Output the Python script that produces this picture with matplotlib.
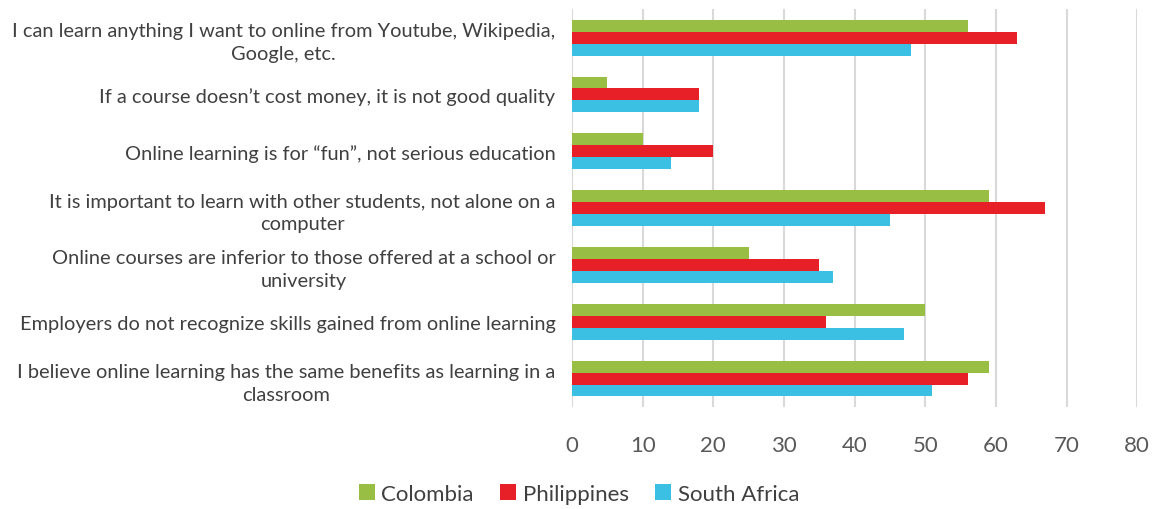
import numpy as np
import matplotlib.pyplot as plt

plt.rcParams['font.family'] = ['Lato', 'DejaVu Sans']

categories = [
    "I can learn anything I want to online from Youtube, Wikipedia,\nGoogle, etc.",
    "If a course doesn\u2019t cost money, it is not good quality",
    "Online learning is for \u201cfun\u201d, not serious education",
    "It is important to learn with other students, not alone on a\ncomputer",
    "Online courses are inferior to those offered at a school or\nuniversity",
    "Employers do not recognize skills gained from online learning",
    "I believe online learning has the same benefits as learning in a\nclassroom",
]
colombia = [56, 5, 10, 59, 25, 50, 59]
philippines = [63, 18, 20, 67, 35, 36, 56]
south_africa = [48, 18, 14, 45, 37, 47, 51]
series_names = ["Colombia", "Philippines", "South Africa"]
colors = ["#98bf43", "#e71f26", "#3bbfe3"]

fig = plt.figure(figsize=(11.58, 5.10), dpi=100)
ax = fig.add_axes([0.494, 0.2, 0.488, 0.78])

y = np.arange(len(categories))
h = 0.21
for i, (vals, name, c) in enumerate(zip([colombia, philippines, south_africa], series_names, colors)):
    ax.barh(y + (i - 1) * h, vals, height=h, color=c, label=name, zorder=3)

ax.set_ylim(len(categories) - 0.5, -0.5)
ax.set_xlim(0, 80)
ax.set_xticks(np.arange(0, 81, 10))
ax.set_yticks(y)
ax.set_yticklabels(categories, fontsize=14.4, color="#404040", ha="right",
                   multialignment="center", linespacing=1.4)
ax.tick_params(axis="x", length=0, pad=20, labelsize=16, labelcolor="#595959")
ax.tick_params(axis="y", length=0, pad=12)
ax.grid(axis="x", color="#d9d9d9", linewidth=1.5, zorder=0)
for s in ax.spines.values():
    s.set_visible(False)

fig.legend(loc="center", bbox_to_anchor=(0.5, 0.03), ncol=3, frameon=False,
           fontsize=16, handlelength=0.7, handleheight=0.7, handletextpad=0.3,
           columnspacing=1.2, labelcolor="#404040")

fig.savefig("out.png", dpi=100)
